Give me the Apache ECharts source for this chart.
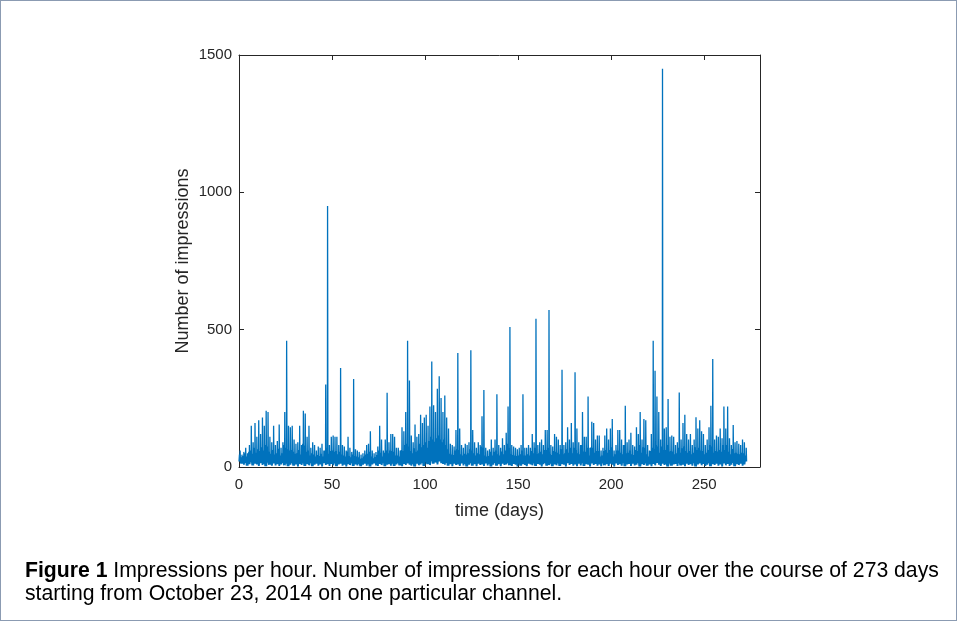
<!DOCTYPE html>
<html><head><meta charset="utf-8">
<script src="https://cdn.jsdelivr.net/npm/echarts@6/dist/echarts.min.js"></script>
<style>
html,body{margin:0;padding:0;background:#fff;}
#frame{position:absolute;left:0;top:0;width:957px;height:621px;box-sizing:border-box;border:1px solid #8b9bb2;}
#chart{position:absolute;left:0;top:0;width:957px;height:621px;}
</style></head><body>
<div id="frame"></div><div id="chart"></div>
<script>
// Daily maximum of the hourly impressions, days 0..272
const peaks = [
  60, 45, 55, 70, 50, 80, 150, 90, 160, 110,
  170, 120, 180, 150, 205, 200, 110, 90, 150, 80,
  95, 155, 70, 90, 200, 460, 150, 145, 150, 100,
  85, 90, 150, 80, 205, 195, 110, 150, 70, 90,
  80, 60, 75, 70, 85, 60, 300, 950, 80, 110,
  115, 110, 110, 80, 360, 80, 75, 60, 110, 70,
  55, 320, 65, 60, 55, 45, 50, 60, 80, 85,
  130, 60, 50, 55, 75, 150, 100, 60, 100, 270,
  90, 120, 120, 110, 70, 70, 60, 145, 130, 200,
  460, 315, 115, 90, 155, 110, 120, 190, 160, 180,
  190, 150, 220, 384, 225, 200, 285, 330, 251, 200,
  260, 180, 140, 85, 80, 75, 135, 415, 140, 80,
  70, 85, 80, 90, 425, 135, 90, 70, 90, 80,
  185, 280, 70, 60, 65, 100, 70, 100, 265, 80,
  70, 105, 80, 125, 220, 510, 80, 75, 70, 65,
  70, 80, 265, 70, 70, 80, 70, 120, 90, 540,
  80, 90, 100, 80, 135, 135, 572, 80, 75, 120,
  110, 100, 80, 354, 80, 90, 145, 100, 160, 90,
  345, 140, 90, 80, 200, 110, 110, 257, 70, 165,
  160, 100, 115, 115, 60, 70, 115, 140, 100, 140,
  175, 60, 80, 135, 135, 100, 80, 223, 90, 100,
  125, 80, 75, 145, 120, 200, 100, 175, 170, 80,
  60, 120, 460, 350, 257, 200, 100, 1450, 140, 145,
  248, 110, 115, 110, 80, 90, 271, 100, 160, 190,
  120, 100, 120, 80, 100, 181, 140, 170, 130, 120,
  80, 100, 145, 223, 393, 100, 115, 110, 140, 105,
  220, 140, 220, 105, 80, 153, 90, 95, 85, 80,
  100, 90, 70
];
// Typical daytime level of the hourly impressions, days 0..272
const typical = [
  45, 35, 40, 50, 38, 55, 60, 48, 70, 52,
  65, 58, 72, 60, 80, 75, 55, 48, 62, 45,
  50, 66, 42, 50, 80, 70, 65, 60, 62, 55,
  48, 50, 62, 45, 85, 78, 55, 60, 42, 50,
  45, 38, 44, 40, 48, 38, 60, 70, 48, 58,
  60, 55, 58, 46, 55, 45, 42, 38, 56, 40,
  35, 45, 40, 38, 35, 30, 32, 38, 45, 48,
  55, 38, 32, 36, 44, 60, 52, 38, 52, 60,
  50, 60, 58, 55, 42, 42, 38, 62, 58, 80,
  85, 75, 58, 50, 68, 55, 60, 85, 72, 80,
  90, 70, 95, 110, 100, 92, 105, 115, 100, 90,
  100, 80, 65, 48, 45, 44, 60, 65, 62, 46,
  42, 48, 45, 50, 65, 60, 50, 42, 50, 46,
  75, 70, 42, 38, 40, 55, 42, 55, 60, 46,
  42, 56, 46, 60, 85, 70, 46, 44, 42, 40,
  42, 46, 60, 42, 42, 46, 42, 58, 50, 70,
  46, 50, 55, 46, 62, 62, 70, 46, 44, 58,
  55, 52, 46, 65, 46, 50, 65, 52, 70, 50,
  70, 62, 50, 46, 80, 56, 55, 70, 42, 72,
  70, 52, 58, 58, 38, 42, 58, 62, 52, 62,
  72, 38, 46, 60, 60, 52, 46, 80, 50, 52,
  60, 46, 44, 62, 58, 80, 52, 72, 70, 46,
  38, 58, 70, 65, 80, 75, 52, 75, 62, 62,
  80, 56, 58, 56, 46, 50, 70, 52, 68, 75,
  58, 52, 58, 46, 52, 72, 62, 70, 60, 58,
  46, 52, 62, 80, 75, 52, 58, 56, 62, 55,
  80, 62, 80, 55, 46, 65, 50, 52, 48, 46,
  52, 50, 42
];
// Daily low of the hourly impressions, days 0..272
const lows = [
  20, 12, 8, 15, 5, 10, 18, 6, 12, 9,
  4, 14, 7, 11, 3, 16, 8, 5, 13, 6,
  10, 4, 9, 15, 6, 12, 3, 8, 14, 5,
  9, 2, 11, 7, 13, 4, 10, 6, 15, 3,
  8, 12, 5, 9, 2, 14, 7, 10, 4, 11,
  6, 13, 3, 9, 12, 5, 8, 2, 10, 7,
  14, 4, 9, 6, 11, 3, 8, 12, 5, 10,
  2, 9, 13, 6, 4, 11, 7, 15, 3, 8,
  10, 5, 12, 4, 9, 14, 6, 3, 11, 7,
  13, 8, 5, 10, 2, 12, 6, 9, 15, 4,
  18, 10, 7, 22, 12, 16, 9, 20, 14, 11,
  8, 15, 5, 10, 3, 12, 7, 9, 4, 13,
  6, 11, 2, 8, 14, 5, 10, 3, 12, 7,
  9, 4, 13, 6, 11, 2, 8, 15, 5, 10,
  3, 12, 7, 9, 14, 6, 4, 11, 8, 2,
  13, 5, 10, 7, 3, 12, 9, 6, 14, 4,
  11, 8, 2, 10, 15, 5, 7, 12, 3, 9,
  6, 13, 4, 10, 8, 2, 14, 7, 11, 5,
  9, 3, 12, 6, 15, 4, 10, 8, 2, 13,
  7, 11, 5, 9, 3, 14, 6, 10, 4, 12,
  8, 2, 13, 7, 10, 5, 15, 3, 9, 11,
  4, 12, 6, 8, 14, 2, 10, 7, 13, 5,
  9, 3, 11, 6, 15, 8, 4, 12, 7, 10,
  2, 13, 5, 9, 11, 4, 14, 6, 8, 3,
  12, 7, 10, 5, 15, 2, 9, 13, 6, 11,
  4, 8, 14, 3, 10, 7, 12, 5, 9, 2,
  13, 6, 11, 4, 8, 15, 3, 10, 7, 12,
  5, 9, 20
];
const xTicks = [0, 50, 100, 150, 200, 250];
const yTicks = [0, 500, 1000, 1500];
const xName = 'time (days)';
const yName = 'Number of impressions';
const captionBold = 'Figure 1';
const captionLine1 = ' Impressions per hour. Number of impressions for each hour over the course of 273 days';
const captionLine2 = 'starting from October 23, 2014 on one particular channel.';

// trace per day: night low, typical level, low, daily peak, low
const series = [];
for (let d = 0; d < peaks.length; d++) {
  series.push([d, lows[d]]);
  series.push([d + 0.25, typical[d]]);
  series.push([d + 0.5, lows[d]]);
  series.push([d + 0.6, peaks[d]]);
  series.push([d + 0.8, lows[d]]);
}

const FONT = '"Liberation Sans", Arial, sans-serif';
const AX = '#262626';
const chart = echarts.init(document.getElementById('chart'), null, {renderer: 'canvas'});

function xa(pos, main) {
  return {
    type: 'value', min: 0, max: 280, position: pos,
    axisLine: {show: true, onZero: false, lineStyle: {color: AX, width: 1}},
    axisTick: {show: true, inside: true, length: 5, customValues: xTicks, lineStyle: {color: AX}},
    axisLabel: main ? {show: true, customValues: xTicks, fontSize: 15, color: AX, fontFamily: FONT, margin: 10,
      formatter: v => String(v)} : {show: false},
    splitLine: {show: false},
    name: main ? xName : '', nameLocation: 'middle', nameGap: 35, nameMoveOverlap: false,
    nameTextStyle: {fontSize: 18, color: AX, fontFamily: FONT}
  };
}
function ya(pos, main) {
  return {
    type: 'value', min: 0, max: 1500, interval: 500, position: pos,
    axisLine: {show: true, onZero: false, lineStyle: {color: AX, width: 1}},
    axisTick: {show: true, inside: true, length: 5, customValues: yTicks, lineStyle: {color: AX}},
    axisLabel: main ? {show: true, customValues: yTicks, fontSize: 15, color: AX, fontFamily: FONT, margin: 7,
      formatter: v => String(v)} : {show: false},
    splitLine: {show: false},
    name: main ? yName : '', nameLocation: 'middle', nameGap: 47, nameRotate: 90, nameMoveOverlap: false,
    nameTextStyle: {fontSize: 18, color: AX, fontFamily: FONT}
  };
}

chart.setOption({
  animation: false,
  backgroundColor: 'transparent',
  grid: {left: 239, right: 197, top: 55, bottom: 154, containLabel: false},
  xAxis: [xa('bottom', true), xa('top', false)],
  yAxis: [ya('left', true), ya('right', false)],
  series: [{
    type: 'line', data: series, xAxisIndex: 0, yAxisIndex: 0,
    showSymbol: false, symbol: 'none', sampling: null,
    lineStyle: {color: '#0072BD', width: 1.3},
    itemStyle: {color: '#0072BD'}
  }],
  graphic: [
    {type: 'text', left: 25, top: 561, style: {
      text: '{b|' + captionBold + '}' + captionLine1,
      fontSize: 21.2, fontFamily: FONT, fill: '#000',
      rich: {b: {fontWeight: 'bold', fontSize: 21.2, fontFamily: FONT, fill: '#000'}}
    }},
    {type: 'text', left: 25, top: 584, style: {
      text: captionLine2, fontSize: 21.2, fontFamily: FONT, fill: '#000'
    }}
  ]
});
</script>
</body></html>
